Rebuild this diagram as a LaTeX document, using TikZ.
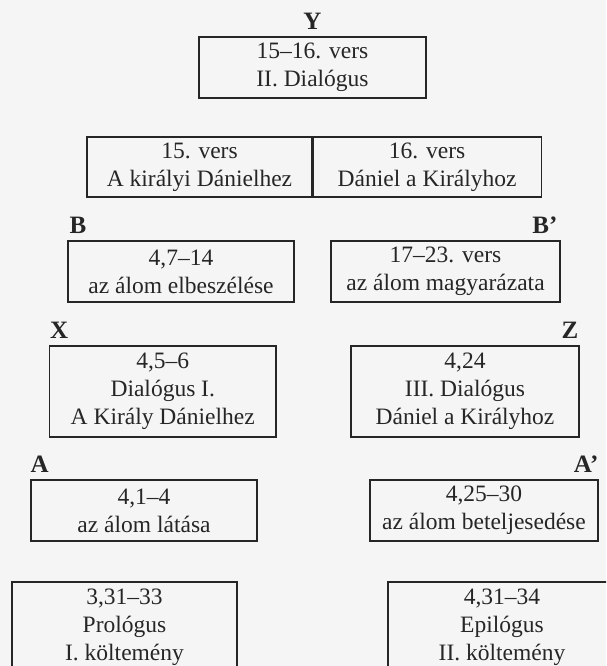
\documentclass[tikz,border=0pt]{standalone}
\usepackage{fontspec}
\setmainfont{Liberation Serif}
\definecolor{bg}{HTML}{F5F5F5}
\definecolor{ink}{HTML}{262626}
\begin{document}
\begin{tikzpicture}[x=1pt,y=-1pt,
  box/.style={draw=ink, line width=1.1pt, inner sep=0pt, align=center, text=ink,
    font=\fontsize{23.5}{28}\selectfont},
  lbl/.style={inner sep=0pt, text=ink, font=\fontsize{25}{28}\selectfont\bfseries}]
\fill[bg] (0,0) rectangle (606,666);
\useasboundingbox (0,0) rectangle (606,666);
\clip (0,0) rectangle (606,666);
% top
\node[box, minimum width=227pt, minimum height=61pt] (Y) at (312.5,67.5) {15–16. vers\\II. Dialógus};
\node[lbl, anchor=base] (lY) at ([yshift=7pt]Y.north) {Y};
% split box
\node[box, minimum width=225pt, minimum height=60pt] (K1) at (199.5,167) {15. vers\\A királyi Dánielhez};
\node[box, minimum width=228pt, minimum height=60pt, anchor=west] (K2) at (K1.east) {16. vers\\Dániel a Királyhoz};
% B row
\node[box, minimum width=226pt, minimum height=61pt] (B) at (181,271.5) {4,7–14\\az álom elbeszélése};
\node[box, minimum width=229pt, minimum height=61pt] (Bp) at (445.5,271.5) {17–23. vers\\az álom magyarázata};
\node[lbl, anchor=base west] (lB) at ([xshift=2pt,yshift=7pt]B.north west) {B};
\node[lbl, anchor=base east] (lBp) at ([xshift=-3pt,yshift=7pt]Bp.north east) {B’};
% X row
\node[box, minimum width=226.5pt, minimum height=91pt] (X) at (162.75,391.5) {4,5–6\\Dialógus I.\\A Király Dánielhez};
\node[box, minimum width=228pt, minimum height=91pt] (Z) at (465,391.5) {4,24\\III. Dialógus\\Dániel a Királyhoz};
\node[lbl, anchor=base west] (lX) at ([xshift=1pt,yshift=7pt]X.north west) {X};
\node[lbl, anchor=base east] (lZ) at ([xshift=-1pt,yshift=7pt]Z.north east) {Z};
% A row
\node[box, minimum width=226pt, minimum height=61pt] (A) at (144,510.5) {4,1–4\\az álom látása};
\node[box, minimum width=228pt, minimum height=61pt] (Ap) at (484,510.5) {4,25–30\\az álom beteljesedése};
\node[lbl, anchor=base west] (lA) at ([yshift=7pt]A.north west) {A};
\node[lbl, anchor=base east] (lAp) at ([yshift=7pt]Ap.north east) {A’};
% bottom row
\node[box, minimum width=225pt, minimum height=91pt] (P) at (124.5,627.5) {3,31–33\\Prológus\\I. költemény};
\node[box, minimum width=228pt, minimum height=91pt] (E) at (502,627.5) {4,31–34\\Epilógus\\II. költemény};
\end{tikzpicture}
\end{document}
